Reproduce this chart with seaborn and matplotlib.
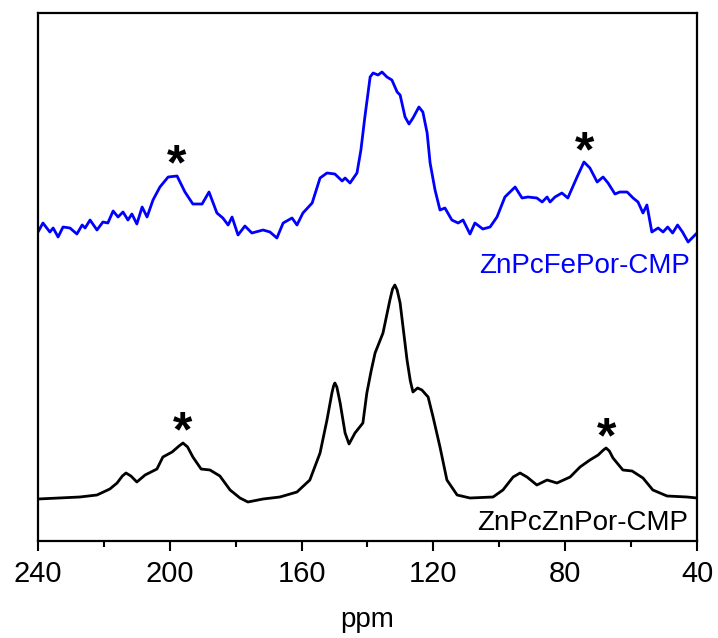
import numpy as np
import pandas as pd
import matplotlib
matplotlib.use("Agg")
import matplotlib.pyplot as plt
import seaborn as sns

# 13C CP/MAS solid-state NMR spectra (chemical shift in ppm, relative intensity)
fe_ppm = [240.0, 238.5, 236.4, 235.4, 233.9, 232.4, 230.3, 228.2, 226.6, 225.7,
          224.2, 222.1, 220.3, 218.8, 217.2, 215.7, 214.2, 212.7, 211.5, 210.0,
          208.4, 206.9, 205.1, 203.0, 200.5, 197.8, 195.4, 193.0, 190.2, 188.1,
          185.7, 183.9, 182.3, 181.1, 179.3, 177.2, 175.1, 171.7, 169.6, 167.5,
          165.6, 162.9, 161.4, 159.6, 156.8, 154.4, 152.3, 149.9, 147.7, 146.8,
          145.3, 143.2, 142.0, 140.8, 139.2, 138.3, 136.8, 135.6, 134.1, 132.6,
          131.0, 130.1, 128.6, 127.4, 126.2, 124.4, 123.2, 121.9, 121.0, 119.5,
          118.0, 116.5, 114.4, 112.5, 111.0, 108.9, 107.4, 105.0, 102.8, 100.7,
          98.3, 95.2, 93.1, 91.3, 88.6, 87.0, 85.5, 84.6, 83.1, 81.0,
          79.2, 76.4, 74.3, 72.5, 70.3, 68.5, 67.0, 64.9, 63.4, 61.2,
          59.4, 57.9, 56.4, 55.2, 53.7, 51.8, 50.3, 48.9, 47.4, 45.9,
          44.4, 42.7, 41.2, 40.0]
fe_int = [0, 9, 0, 4, -5, 5, 4, -2, 7, 4,
          12, 2, 10, 9, 21, 15, 20, 12, 18, 8,
          25, 15, 32, 45, 55, 56, 40, 28, 28, 40,
          19, 14, 7, 15, -3, 6, -1, 2, 0, -6,
          9, 14, 7, 19, 29, 54, 59, 58, 51, 54,
          49, 59, 82, 115, 155, 159, 157, 160, 155, 152,
          140, 137, 115, 108, 114, 125, 120, 99, 69, 42,
          22, 24, 12, 9, 12, -2, 9, 3, 5, 15,
          35, 45, 34, 35, 34, 30, 35, 30, 35, 39,
          34, 55, 70, 64, 50, 55, 49, 38, 40, 40,
          34, 30, 19, 27, 0, 4, 0, 5, -1, 7,
          0, -10, -5, -1]

zn_ppm = [240.0, 227.3, 222.1, 218.2, 216.0, 214.4, 213.3, 211.8, 210.0, 207.5,
          203.9, 202.1, 199.3, 197.2, 196.0, 194.6, 193.0, 190.5, 187.8, 184.8,
          181.7, 178.7, 176.3, 171.7, 166.6, 161.4, 157.5, 154.4, 152.3, 150.8,
          150.3, 149.9, 149.3, 148.3, 146.8, 145.6, 143.8, 141.4, 140.2, 138.9,
          137.7, 135.3, 133.2, 132.4, 131.7, 131.0, 130.1, 128.0, 127.0, 126.2,
          124.8, 123.5, 121.6, 120.1, 118.0, 115.9, 112.8, 108.9, 101.9, 98.9,
          95.8, 93.7, 91.6, 88.6, 85.5, 82.5, 78.5, 75.5, 72.5, 70.0,
          68.4, 67.6, 66.6, 65.5, 62.5, 59.7, 56.4, 53.4, 49.1, 43.0,
          40.0]
zn_int = [0, 2, 4, 10, 16, 23, 26, 23, 17, 24,
          30, 42, 47, 53, 56, 52, 42, 30, 29, 23,
          9, 1, -3, 0, 2, 7, 19, 46, 79, 106,
          113, 116, 112, 96, 66, 55, 66, 76, 106, 128,
          146, 166, 199, 210, 214, 209, 196, 139, 118, 107,
          111, 109, 102, 82, 52, 19, 4, 1, 2, 9,
          22, 26, 22, 14, 19, 16, 22, 32, 39, 44,
          49, 51, 48, 41, 29, 28, 21, 9, 3, 2,
          1]

# spinning sidebands marked with an asterisk
fe_sidebands = [198.0, 74.0]
zn_sidebands = [196.0, 67.5]

sample_names = ["ZnPcFePor-CMP", "ZnPcZnPor-CMP"]
x_ticks = [240, 200, 160, 120, 80, 40]

sns.set_style("ticks")
plt.rcParams["font.family"] = ["Liberation Sans", "DejaVu Sans"]
plt.rcParams["text.color"] = "black"
plt.rcParams["xtick.color"] = "black"
plt.rcParams["axes.labelcolor"] = "black"

fig = plt.figure(figsize=(7.18, 6.38), dpi=100)
ax = fig.add_axes([38 / 718, 97 / 638, 659 / 718, 528 / 638])

blue = "#0000ff"
fe_offset, zn_offset = 309, 42
fe = pd.DataFrame({"ppm": fe_ppm, "y": np.array(fe_int) + fe_offset})
zn = pd.DataFrame({"ppm": zn_ppm, "y": np.array(zn_int) + zn_offset})

sns.lineplot(data=fe, x="ppm", y="y", ax=ax, color=blue, lw=2.0,
             estimator=None, sort=False)
sns.lineplot(data=zn, x="ppm", y="y", ax=ax, color="black", lw=2.0,
             estimator=None, sort=False)

ax.set_xlim(240, 40)
ax.set_ylim(0, 528)
ax.set_xticks(x_ticks)
ax.set_xticks(np.arange(220, 40, -40), minor=True)
ax.set_yticks([])
ax.tick_params(axis="x", which="major", direction="out", length=7.5, width=1.5,
               labelsize=21, pad=6, colors="black")
ax.tick_params(axis="x", which="minor", direction="out", length=4, width=1.5,
               colors="black")
for s in ax.spines.values():
    s.set_visible(True)
    s.set_linewidth(1.6)
    s.set_color("black")
ax.set_xlabel("ppm", fontsize=20, labelpad=14, color="black")
ax.set_ylabel("")

# sample labels
ax.text(42.1, 268, sample_names[0], color=blue, fontsize=20,
        ha="right", va="baseline")
ax.text(42.7, 11, sample_names[1], color="black", fontsize=20,
        ha="right", va="baseline")

# asterisks above the sideband peaks
star_fs = 36
for peaks, ppm, inten, off in [(fe_sidebands, fe_ppm, fe_int, fe_offset),
                               (zn_sidebands, zn_ppm, zn_int, zn_offset)]:
    for p in peaks:
        h = np.interp(p, ppm[::-1], inten[::-1]) + off
        ax.annotate("*", xy=(p, h), xytext=(0, 18 - 0.575 * star_fs),
                    textcoords="offset points", ha="center", va="baseline",
                    fontsize=star_fs, fontweight="bold", color="black")

fig.savefig("out.png", dpi=100)
